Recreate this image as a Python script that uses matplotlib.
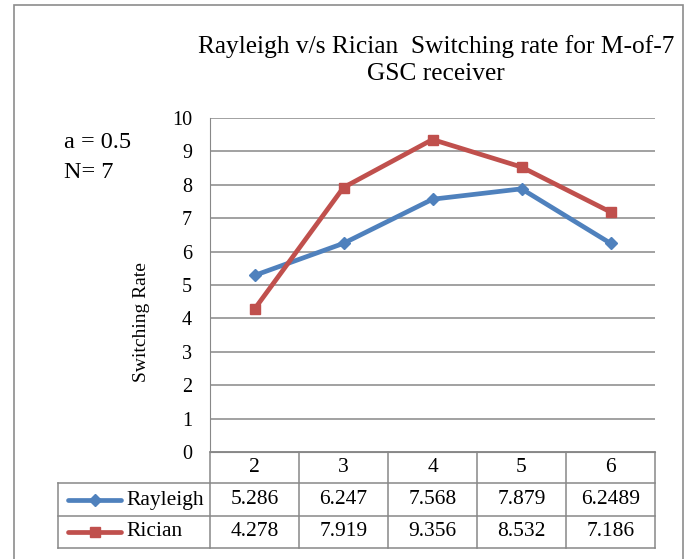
import matplotlib
matplotlib.use("Agg")
import matplotlib.pyplot as plt
from matplotlib.lines import Line2D
from matplotlib.patches import Rectangle

plt.rcParams["font.family"] = ["Liberation Serif", "DejaVu Serif"]

categories = ["2", "3", "4", "5", "6"]
rayleigh = [5.286, 6.247, 7.568, 7.879, 6.2489]
rician = [4.278, 7.919, 9.356, 8.532, 7.186]
rayleigh_txt = ["5.286", "6.247", "7.568", "7.879", "6.2489"]
rician_txt = ["4.278", "7.919", "9.356", "8.532", "7.186"]

C_BLUE = "#4F81BD"
C_RED = "#C0504D"
C_GRID = "#888888"

W, H = 691, 559
fig = plt.figure(figsize=(W / 100, H / 100), dpi=100)


def fx(px):
    return px / W


def fy(py):
    return 1 - py / H


# outer chart border (bottom edge falls below the image)
fig.add_artist(Rectangle((fx(14), fy(575)), fx(683) - fx(14), fy(5) - fy(575),
                         transform=fig.transFigure, fill=False, edgecolor="#8c8c8c", lw=1.2))

L, R, T, B = 210, 655, 118, 452
ax = fig.add_axes([fx(L), fy(B), fx(R) - fx(L), fy(T) - fy(B)])
xs = list(range(len(categories)))
ax.plot(xs, rayleigh, color=C_BLUE, lw=3.4, marker="D", ms=6.5, zorder=3)
ax.plot(xs, rician, color=C_RED, lw=3.4, marker="s", ms=7.5, zorder=3)
ax.set_xlim(-0.5, len(categories) - 0.5)
ax.set_ylim(0, 10)
ax.set_yticks(range(0, 11))
ax.tick_params(axis="y", length=0, labelsize=14.5, pad=13)
ax.set_xticks([])
ax.grid(axis="y", color=C_GRID, lw=1.1)
for s in ["top", "right"]:
    ax.spines[s].set_visible(False)
ax.spines["left"].set_color(C_GRID)
ax.spines["bottom"].set_color(C_GRID)

fig.text(fx(142), fy(322), "Switching Rate", rotation=90, ha="center", va="center",
         fontsize=14)

# data table below axes, in figure pixel coordinates
col_edges = [L + i * (R - L) / len(categories) for i in range(len(categories) + 1)]
row_lines = [452, 483, 516, 548]
legend_left = 58


def hline(x0, x1, y):
    fig.add_artist(Line2D([fx(x0), fx(x1)], [fy(y), fy(y)], transform=fig.transFigure,
                          color=C_GRID, lw=1.1))


def vline(x, y0, y1):
    fig.add_artist(Line2D([fx(x), fx(x)], [fy(y0), fy(y1)], transform=fig.transFigure,
                          color=C_GRID, lw=1.1))


hline(L, R, row_lines[0])
hline(legend_left, R, row_lines[1])
hline(legend_left, R, row_lines[2])
hline(legend_left, R, row_lines[3])
for x in col_edges:
    vline(x, row_lines[0], row_lines[3])
vline(legend_left, row_lines[1], row_lines[3])

for i, c in enumerate(categories):
    cx = (col_edges[i] + col_edges[i + 1]) / 2
    fig.text(fx(cx), fy(468), c, ha="center", va="center", fontsize=15.5)
    fig.text(fx(cx), fy(500), rayleigh_txt[i], ha="center", va="center", fontsize=15.5)
    fig.text(fx(cx), fy(532), rician_txt[i], ha="center", va="center", fontsize=15.5)

for y, name, col, mk, ms in [(500, "Rayleigh", C_BLUE, "D", 6.5), (532, "Rician", C_RED, "s", 7.5)]:
    fig.add_artist(Line2D([fx(68), fx(121)], [fy(y), fy(y)], transform=fig.transFigure,
                          color=col, lw=3.4, solid_capstyle="round"))
    fig.add_artist(Line2D([fx(95)], [fy(y)], transform=fig.transFigure,
                          color=col, marker=mk, ms=ms, lw=0))
    fig.text(fx(126), fy(y), name, ha="left", va="center", fontsize=15.5)

fig.text(fx(436), fy(47), "Rayleigh v/s Rician  Switching rate for M-of-7",
         ha="center", va="center", fontsize=18.3)
fig.text(fx(436), fy(74), "GSC receiver", ha="center", va="center", fontsize=18.3)
fig.text(fx(64), fy(143), "a = 0.5", ha="left", va="center", fontsize=17.5)
fig.text(fx(64), fy(172), "N= 7", ha="left", va="center", fontsize=17.5)

fig.savefig("out.png", dpi=100, facecolor="white")
